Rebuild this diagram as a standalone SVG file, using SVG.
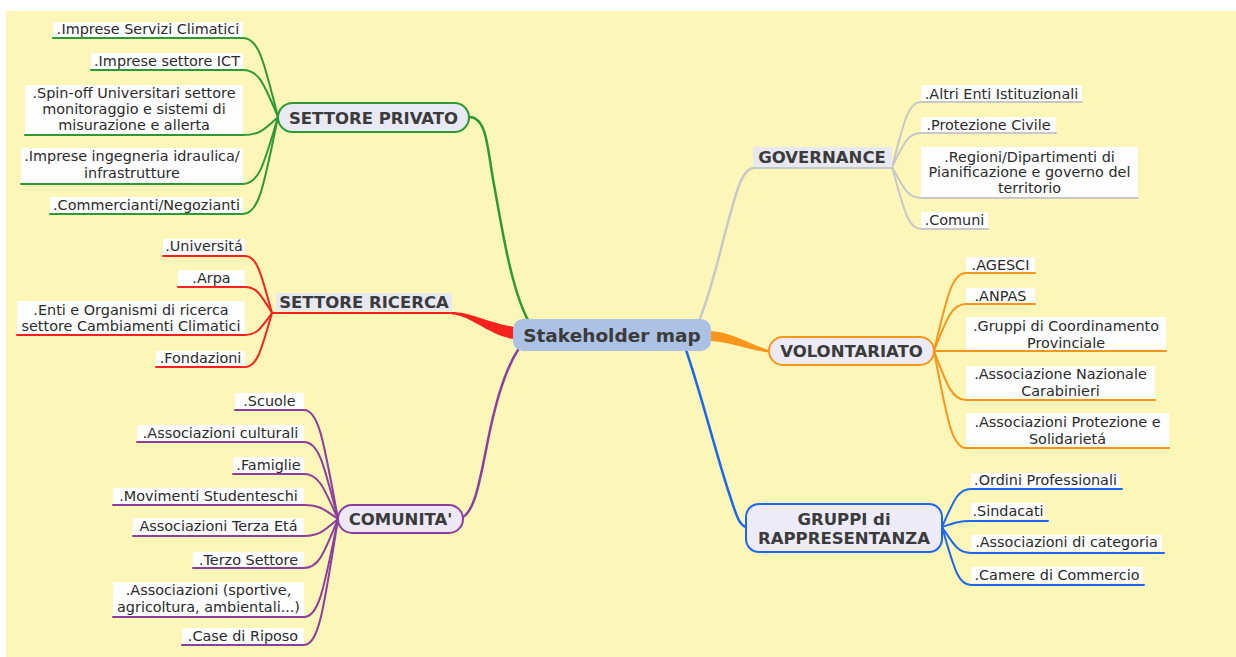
<svg xmlns="http://www.w3.org/2000/svg" width="1236" height="657" viewBox="0 0 1236 657">
<style>
.bg{fill:#fdf6b9}
.leaf rect{fill:#fefefe}
.leaf text{font-family:"DejaVu Sans",sans-serif;font-size:14.4px;fill:#2b2b2b;text-anchor:middle}
.hd{font-family:"DejaVu Sans",sans-serif;font-weight:bold;font-size:16.5px;fill:#3b3b3b;text-anchor:middle}
.ln{fill:none;stroke-width:2;stroke-linecap:round}
.main{stroke-width:2.5}
.g{stroke:#2f9a33}.r{stroke:#f5231c}.p{stroke:#8d3f9e}.gr{stroke:#c8c8c8}.o{stroke:#f9951b}.b{stroke:#1a68f0}
</style>
<rect class="bg" x="6" y="11" width="1230" height="646"/>

<g id="connectors">
  <path class="ln main g" d="M469,117 C488,117 487,150 495,190 C503,235 512,290 528,320"/>
  <path class="ln r" d="M272,313 H452"/>
  <path fill="#f5231c" d="M452,312 C470,312 486,322 514,327 L514,339 C490,336 470,315 452,314.5 Z"/>
  <path class="ln main p" d="M463,517 C475,510 480,480 488,440 C496,400 505,370 518,350"/>
  <path class="ln main gr" d="M700,318 C712,290 720,250 730,215 C737,190 742,170 753,168"/>
  <path class="ln gr" d="M753,168 H892"/>
  <path fill="#f9951b" d="M708,331 C730,331 748,344 769,350 L769,352.5 C748,350 728,341 708,341 Z"/>
  <path class="ln main b" d="M686,350 C700,390 715,450 728,490 C735,510 738,525 746,527"/>
  <path class="ln g" d="M53,38 H243 C259,38 264,62 278,117"/>
  <path class="ln g" d="M91,70 H243 C259,70 264,84 278,117"/>
  <path class="ln g" d="M25,135 H243 C259,135 264,130 278,117"/>
  <path class="ln g" d="M21,184 H243 C259,184 264,164 278,117"/>
  <path class="ln g" d="M50,214 H243 C259,214 264,185 278,117"/>
  <path class="ln r" d="M163,256 H245 C257,256 261,273 272,313"/>
  <path class="ln r" d="M178,287 H245 C257,287 261,295 272,313"/>
  <path class="ln r" d="M17,335 H245 C257,335 261,328 272,313"/>
  <path class="ln r" d="M156,367 H245 C257,367 261,351 272,313"/>
  <path class="ln p" d="M235,410 H304 C319,410 324,443 338,519"/>
  <path class="ln p" d="M137,442 H304 C319,442 324,465 338,519"/>
  <path class="ln p" d="M233,474 H304 C319,474 324,488 338,519"/>
  <path class="ln p" d="M113,505 H304 C319,505 324,509 338,519"/>
  <path class="ln p" d="M133,536 H304 C319,536 324,531 338,519"/>
  <path class="ln p" d="M193,568 H304 C319,568 324,553 338,519"/>
  <path class="ln p" d="M113,617 H304 C319,617 324,588 338,519"/>
  <path class="ln p" d="M182,645 H304 C319,645 324,607 338,519"/>
  <path class="ln gr" d="M1082,102 H921 C908,102 904,122 892,167"/>
  <path class="ln gr" d="M1056,133 H921 C908,133 904,143 892,167"/>
  <path class="ln gr" d="M1138,198 H921 C908,198 904,189 892,167"/>
  <path class="ln gr" d="M988,229 H921 C908,229 904,210 892,167"/>
  <path class="ln o" d="M1035,273 H966 C952,273 947,296 934,351"/>
  <path class="ln o" d="M1035,304 H966 C952,304 947,318 934,351"/>
  <path class="ln o" d="M1166,351 H934"/>
  <path class="ln o" d="M1155,400 H966 C952,400 947,385 934,351"/>
  <path class="ln o" d="M1169,448 H966 C952,448 947,419 934,351"/>
  <path class="ln b" d="M1122,489 H971 C958,489 954,500 942,527"/>
  <path class="ln b" d="M1048,521 H971 C958,521 954,523 942,527"/>
  <path class="ln b" d="M1164,553 H971 C958,553 954,545 942,527"/>
  <path class="ln b" d="M1144,585 H971 C958,585 954,568 942,527"/>
</g>

<g id="stakeholder-map">
  <rect x="513" y="319" width="198" height="32" rx="10" fill="#abc2e5"/>
  <text x="612" y="342" font-family="DejaVu Sans, sans-serif" font-weight="bold" font-size="18.5" fill="#3b3b3b" text-anchor="middle">Stakeholder map</text>
</g>

<g id="settore-privato">
  <rect x="278" y="103" width="191" height="29" rx="14.5" fill="#e9e9f3" stroke="#2f9a33" stroke-width="2"/>
  <text class="hd" x="373.5" y="124">SETTORE PRIVATO</text>
</g>
<g id="settore-ricerca">
  <rect x="276" y="293" width="176" height="18" fill="#e8e8f1"/>
  <text class="hd" x="364" y="308">SETTORE RICERCA</text>
</g>
<g id="comunita">
  <rect x="338" y="505" width="125" height="28" rx="14" fill="#ece8f6" stroke="#8d3f9e" stroke-width="2"/>
  <text class="hd" x="400.5" y="525">COMUNITA'</text>
</g>
<g id="governance">
  <rect x="753" y="147" width="139" height="20" fill="#e8e8f1"/>
  <text class="hd" x="822" y="163">GOVERNANCE</text>
</g>
<g id="volontariato">
  <rect x="769" y="337" width="165" height="28" rx="14" fill="#ebeaf6" stroke="#f9951b" stroke-width="2"/>
  <text class="hd" x="851.5" y="357">VOLONTARIATO</text>
</g>
<g id="gruppi-rappresentanza">
  <rect x="746" y="504" width="196" height="48" rx="13" fill="#ecebf7" stroke="#1a68f0" stroke-width="2"/>
  <text class="hd" x="844" y="525">GRUPPI di</text>
  <text class="hd" x="844" y="544">RAPPRESENTANZA</text>
</g>

<g id="imprese-servizi-climatici" class="leaf"><rect x="53" y="22" width="190" height="15"/><text x="148" y="34">.Imprese Servizi Climatici</text></g>
<g id="imprese-ict" class="leaf"><rect x="91" y="53" width="152" height="16"/><text x="167" y="65.5">.Imprese settore ICT</text></g>
<g id="spin-off" class="leaf"><rect x="25" y="85" width="218" height="49"/><text x="134" y="98">.Spin-off Universitari settore</text><text x="134" y="114">monitoraggio e sistemi di</text><text x="134" y="130">misurazione e allerta</text></g>
<g id="imprese-ingegneria" class="leaf"><rect x="21" y="148" width="222" height="35"/><text x="132" y="161">.Imprese ingegneria idraulica/</text><text x="132" y="178">infrastrutture</text></g>
<g id="commercianti" class="leaf"><rect x="50" y="197" width="193" height="16"/><text x="146.5" y="209.5">.Commercianti/Negozianti</text></g>

<g id="universita" class="leaf"><rect x="163" y="239" width="82" height="16"/><text x="204" y="251">.Universitá</text></g>
<g id="arpa" class="leaf"><rect x="178" y="270" width="67" height="16"/><text x="211.5" y="282.5">.Arpa</text></g>
<g id="enti-organismi" class="leaf"><rect x="17" y="301" width="228" height="33"/><text x="131" y="315">.Enti e Organismi di ricerca</text><text x="131" y="331">settore Cambiamenti Climatici</text></g>
<g id="fondazioni" class="leaf"><rect x="156" y="351" width="89" height="15"/><text x="200.5" y="363">.Fondazioni</text></g>

<g id="scuole" class="leaf"><rect x="235" y="393" width="69" height="16"/><text x="269.5" y="405.5">.Scuole</text></g>
<g id="associazioni-culturali" class="leaf"><rect x="137" y="425" width="167" height="16"/><text x="220.5" y="437.5">.Associazioni culturali</text></g>
<g id="famiglie" class="leaf"><rect x="233" y="457" width="71" height="16"/><text x="268.5" y="469.5">.Famiglie</text></g>
<g id="movimenti-studenteschi" class="leaf"><rect x="113" y="488" width="191" height="16"/><text x="208.5" y="500.5">.Movimenti Studenteschi</text></g>
<g id="terza-eta" class="leaf"><rect x="133" y="518" width="171" height="17"/><text x="218.5" y="531">Associazioni Terza Etá</text></g>
<g id="terzo-settore" class="leaf"><rect x="193" y="552" width="111" height="15"/><text x="248.5" y="564.5">.Terzo Settore</text></g>
<g id="associazioni-sportive" class="leaf"><rect x="113" y="582" width="191" height="34"/><text x="208.5" y="595">.Associazioni (sportive,</text><text x="208.5" y="612">agricoltura, ambientali...)</text></g>
<g id="case-riposo" class="leaf"><rect x="182" y="628" width="122" height="16"/><text x="243" y="640.5">.Case di Riposo</text></g>

<g id="altri-enti" class="leaf"><rect x="921" y="85" width="161" height="16"/><text x="1001.5" y="98.5">.Altri Enti Istituzionali</text></g>
<g id="protezione-civile" class="leaf"><rect x="921" y="117" width="135" height="15"/><text x="988.5" y="129.5">.Protezione Civile</text></g>
<g id="regioni" class="leaf"><rect x="921" y="147" width="217" height="50"/><text x="1029.5" y="162">.Regioni/Dipartimenti di</text><text x="1029.5" y="177">Pianificazione e governo del</text><text x="1029.5" y="193">territorio</text></g>
<g id="comuni" class="leaf"><rect x="921" y="212" width="67" height="16"/><text x="954.5" y="224.5">.Comuni</text></g>

<g id="agesci" class="leaf"><rect x="966" y="257" width="69" height="15"/><text x="1000.5" y="269.5">.AGESCI</text></g>
<g id="anpas" class="leaf"><rect x="966" y="288" width="69" height="15"/><text x="1000.5" y="300.5">.ANPAS</text></g>
<g id="gruppi-coordinamento" class="leaf"><rect x="966" y="317" width="200" height="33"/><text x="1066" y="331">.Gruppi di Coordinamento</text><text x="1066" y="348">Provinciale</text></g>
<g id="carabinieri" class="leaf"><rect x="966" y="366" width="189" height="33"/><text x="1060.5" y="379">.Associazione Nazionale</text><text x="1060.5" y="396">Carabinieri</text></g>
<g id="protezione-solidarieta" class="leaf"><rect x="966" y="413" width="203" height="34"/><text x="1067.5" y="427">.Associazioni Protezione e</text><text x="1067.5" y="444">Solidarietá</text></g>

<g id="ordini-professionali" class="leaf"><rect x="971" y="473" width="149" height="15"/><text x="1045.5" y="485">.Ordini Professionali</text></g>
<g id="sindacati" class="leaf"><rect x="971" y="503" width="74" height="16"/><text x="1008" y="515.5">.Sindacati</text></g>
<g id="associazioni-categoria" class="leaf"><rect x="971" y="535" width="191" height="16"/><text x="1066.5" y="547">.Associazioni di categoria</text></g>
<g id="camere-commercio" class="leaf"><rect x="971" y="567" width="172" height="16"/><text x="1057" y="579.5">.Camere di Commercio</text></g>
</svg>
